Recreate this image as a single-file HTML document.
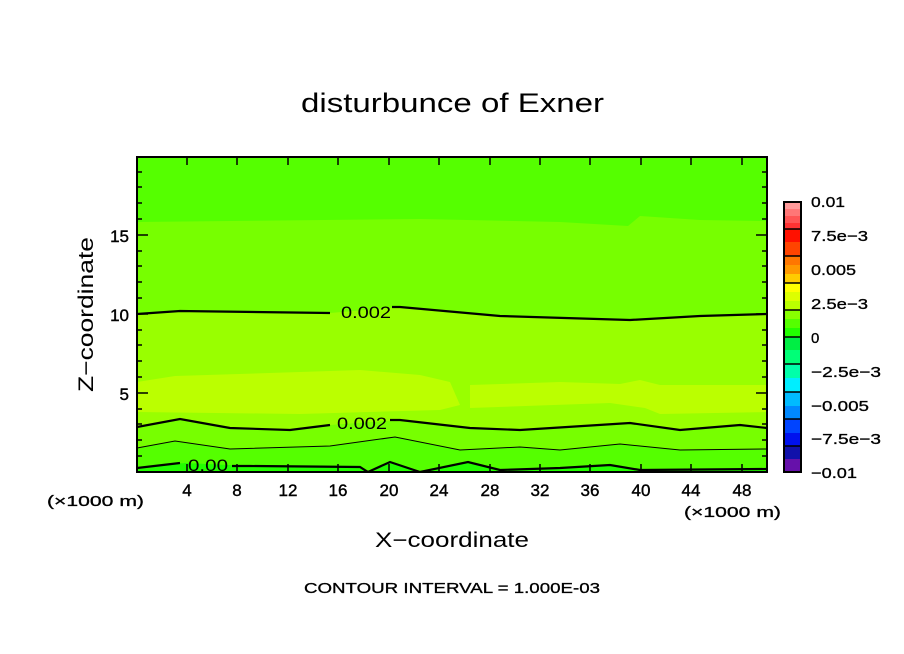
<!DOCTYPE html>
<html><head><meta charset="utf-8"><style>
html,body{margin:0;padding:0;background:#fff;}
svg{display:block;}
text{font-family:"Liberation Sans",sans-serif;fill:#000;}
</style></head><body>
<svg width="904" height="654" viewBox="0 0 904 654" xmlns="http://www.w3.org/2000/svg">
<text x="301" y="112" font-size="27" textLength="303" lengthAdjust="spacingAndGlyphs">disturbunce of Exner</text>
<defs><clipPath id="c"><rect x="137" y="157" width="630" height="315"/></clipPath></defs>
<g clip-path="url(#c)">
<rect x="137" y="157" width="630" height="315" fill="#55ff00"/>
<path d="M137 222 L420 219 L560 222 L628 226 L640 216 L700 220 L767 221 L767 472 L137 472Z" fill="#77ff00"/>
<path d="M137 314 L180 311 L330 313 L400 307 L500 316 L630 320 L700 316 L767 314 L767 472 L137 472Z" fill="#99ff00"/>
<path d="M137 382 L175 376 L300 372 L360 370 L420 375 L450 382 L460 405 L440 410 L300 414 L137 412Z" fill="#bbff00"/>
<path d="M470 385 L560 382 L620 384 L640 380 L660 385 L767 385 L767 412 L660 414 L645 408 L610 403 L470 408Z" fill="#bbff00"/>
<path d="M137 427 L180 419 L230 428 L290 430 L330 425 L400 420 L470 428 L520 430 L630 423 L680 430 L740 425 L767 428 L767 472 L137 472Z" fill="#77ff00"/>
<path d="M137 448 L175 441 L230 449 L330 446 L395 437 L460 450 L520 447 L560 450 L620 444 L680 450 L767 449 L767 472 L137 472Z" fill="#55ff00"/>
<path d="M137 468 L185 463 L250 466 L360 467 L368 472 L390 462 L420 472 L468 462 L500 470 L560 468 L610 465 L640 470 L767 469 L767 472 L137 472Z" fill="#22ff00"/>
</g>
<g fill="none" stroke="#000" clip-path="url(#c)">
<path d="M137 314 L180 311 L330 313 M392 307 L400 307 L500 316 L630 320 L700 316 L767 314" stroke-width="2.2"/>
<path d="M137 427 L180 419 L230 428 L290 430 L330 425 M390 420 L400 420 L470 428 L520 430 L630 423 L680 430 L740 425 L767 428" stroke-width="2.2"/>
<path d="M137 448 L175 441 L230 449 L330 446 L395 437 L460 450 L520 447 L560 450 L620 444 L680 450 L767 449" stroke-width="1"/>
<path d="M137 468 L180 463 M232 466 L250 466 L360 467 L368 472 L390 462 L420 472 L468 462 L500 470 L560 468 L610 465 L640 470 L767 469" stroke-width="2.2"/>
</g>
<text x="341" y="318" font-size="17" textLength="50" lengthAdjust="spacingAndGlyphs">0.002</text>
<text x="337" y="429" font-size="17" textLength="50" lengthAdjust="spacingAndGlyphs">0.002</text>
<text x="188" y="471" font-size="17" textLength="40" lengthAdjust="spacingAndGlyphs">0.00</text>
<rect x="137" y="157" width="630" height="315" fill="none" stroke="#000" stroke-width="2"/>
<g stroke="#000" stroke-width="1.5">
<path d="M187 472v-8M237 472v-8M288 472v-8M338 472v-8M389 472v-8M439 472v-8M490 472v-8M540 472v-8M590 472v-8M641 472v-8M691 472v-8M742 472v-8"/>
<path d="M187 157v8M237 157v8M288 157v8M338 157v8M389 157v8M439 157v8M490 157v8M540 157v8M590 157v8M641 157v8M691 157v8M742 157v8"/>
<path d="M137 393h11M137 314h11M137 235h11M767 393h-11M767 314h-11M767 235h-11"/>
<path d="M137 456h5M137 440h5M137 424h5M137 409h5M137 377h5M137 361h5M137 345h5M137 330h5M137 298h5M137 282h5M137 266h5M137 251h5M137 219h5M137 203h5M137 187h5M137 172h5"/>
<path d="M767 456h-5M767 440h-5M767 424h-5M767 409h-5M767 377h-5M767 361h-5M767 345h-5M767 330h-5M767 298h-5M767 282h-5M767 266h-5M767 251h-5M767 219h-5M767 203h-5M767 187h-5M767 172h-5"/>
</g>
<g font-size="17" text-anchor="middle" stroke="#000" stroke-width="0.4">
<text x="187" y="496">4</text><text x="237" y="496">8</text><text x="288" y="496">12</text><text x="338" y="496">16</text><text x="389" y="496">20</text><text x="439" y="496">24</text><text x="490" y="496">28</text><text x="540" y="496">32</text><text x="590" y="496">36</text><text x="641" y="496">40</text><text x="691" y="496">44</text><text x="742" y="496">48</text>
</g>
<g font-size="17" text-anchor="end" stroke="#000" stroke-width="0.4">
<text x="129" y="400">5</text><text x="129" y="321">10</text><text x="129" y="242">15</text>
</g>
<text x="47" y="506" font-size="15" textLength="97" lengthAdjust="spacingAndGlyphs" stroke="#000" stroke-width="0.3">(×1000 m)</text>
<text x="684" y="517" font-size="15" textLength="97" lengthAdjust="spacingAndGlyphs" stroke="#000" stroke-width="0.3">(×1000 m)</text>
<text x="375" y="547" font-size="21" textLength="154" lengthAdjust="spacingAndGlyphs">X−coordinate</text>
<text transform="translate(93,392) rotate(-90)" font-size="21" textLength="155" lengthAdjust="spacingAndGlyphs">Z−coordinate</text>
<text x="304" y="593" font-size="15" textLength="296" lengthAdjust="spacingAndGlyphs" stroke="#000" stroke-width="0.3">CONTOUR INTERVAL = 1.000E-03</text>
<g>
<rect x="784" y="202" width="17" height="7" fill="#ff9a9a"/><rect x="784" y="209" width="17" height="7" fill="#ff7777"/><rect x="784" y="216" width="17" height="7" fill="#ff5555"/><rect x="784" y="223" width="17" height="6" fill="#ff3333"/>
<rect x="784" y="229" width="17" height="13" fill="#ff1100"/><rect x="784" y="242" width="17" height="14" fill="#ff4400"/>
<rect x="784" y="256" width="17" height="9" fill="#ff7700"/><rect x="784" y="265" width="17" height="9" fill="#ff9900"/><rect x="784" y="274" width="17" height="9" fill="#ffcc00"/>
<rect x="784" y="283" width="17" height="9" fill="#ffff00"/><rect x="784" y="292" width="17" height="9" fill="#ddff00"/><rect x="784" y="301" width="17" height="9" fill="#bbff00"/>
<rect x="784" y="310" width="17" height="9" fill="#88ff00"/><rect x="784" y="319" width="17" height="9" fill="#55ff00"/><rect x="784" y="328" width="17" height="9" fill="#22ff00"/>
<rect x="784" y="337" width="17" height="13" fill="#00ee44"/><rect x="784" y="350" width="17" height="14" fill="#00ff77"/>
<rect x="784" y="364" width="17" height="14" fill="#00ffaa"/><rect x="784" y="378" width="17" height="14" fill="#00eeff"/>
<rect x="784" y="392" width="17" height="14" fill="#00bbff"/><rect x="784" y="406" width="17" height="13" fill="#0088ff"/>
<rect x="784" y="419" width="17" height="14" fill="#0044ff"/><rect x="784" y="433" width="17" height="13" fill="#0011ee"/>
<rect x="784" y="446" width="17" height="13" fill="#1111aa"/><rect x="784" y="459" width="17" height="13" fill="#6611aa"/>
<path d="M784 229h17M784 256h17M784 283h17M784 310h17M784 337h17M784 364h17M784 392h17M784 419h17M784 446h17" stroke="#000" stroke-width="1.5"/>
<rect x="784" y="202" width="17" height="270" fill="none" stroke="#000" stroke-width="2"/>
</g>
<g font-size="15" stroke="#000" stroke-width="0.3">
<text x="811" y="207" textLength="34" lengthAdjust="spacingAndGlyphs">0.01</text>
<text x="811" y="241" textLength="57" lengthAdjust="spacingAndGlyphs">7.5e−3</text>
<text x="811" y="275" textLength="45" lengthAdjust="spacingAndGlyphs">0.005</text>
<text x="811" y="309" textLength="57" lengthAdjust="spacingAndGlyphs">2.5e−3</text>
<text x="811" y="343">0</text>
<text x="811" y="377" textLength="70" lengthAdjust="spacingAndGlyphs">−2.5e−3</text>
<text x="811" y="411" textLength="58" lengthAdjust="spacingAndGlyphs">−0.005</text>
<text x="811" y="444" textLength="70" lengthAdjust="spacingAndGlyphs">−7.5e−3</text>
<text x="811" y="478" textLength="46" lengthAdjust="spacingAndGlyphs">−0.01</text>
</g>
</svg>
</body></html>
